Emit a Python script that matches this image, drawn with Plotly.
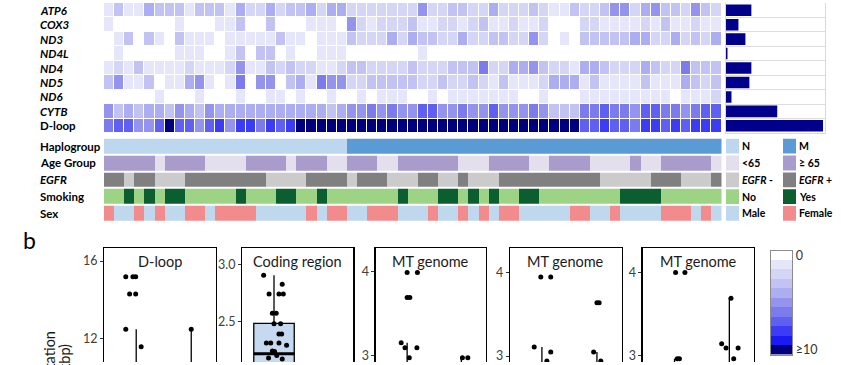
import plotly.graph_objects as go

W, H = 841, 365


def fx(v):
    return v / W


def fy(v):
    return 1 - v / H


# ---------------- data: heatmap (mutation counts per sample, 0..10 = ">=10") ----
genes = ["ATP6", "COX3", "ND3", "ND4L", "ND4", "ND5", "ND6", "CYTB", "D-loop"]
gene_labels = ["<b><i>ATP6</i></b>", "<b><i>COX3</i></b>", "<b><i>ND3</i></b>", "<b><i>ND4L</i></b>",
               "<b><i>ND4</i></b>", "<b><i>ND5</i></b>", "<b><i>ND6</i></b>", "<b><i>CYTB</i></b>",
               "<b>D-loop</b>"]

ATP6 = [1, 3, 1, 1, 4, 3, 3, 3, 1, 3, 3, 3, 1, 4, 2, 2, 4, 2, 3, 3, 4,
        2, 4, 4, 2, 2, 2, 2, 2, 2, 2, 5, 2, 2, 3, 3, 2, 2, 4, 2, 2,
        2, 3, 2, 1, 1, 3, 2, 2, 3, 5, 5, 2, 4, 5, 3, 3, 2, 5, 3, 2]
COX3 = [1, 0, 0, 0, 0, 0, 0, 1, 0, 0, 0, 1, 1, 3, 0, 0, 3, 0, 0, 0, 1,
        1, 1, 0, 5, 2, 1, 2, 2, 2, 3, 1, 1, 2, 2, 1, 2, 3, 1, 1, 2,
        1, 1, 2, 0, 0, 0, 2, 2, 1, 1, 1, 1, 2, 1, 3, 1, 1, 2, 1, 1]
ND3 = [0, 1, 3, 0, 3, 1, 0, 3, 1, 1, 1, 0, 1, 1, 1, 1, 1, 3, 1, 1, 0,
       1, 1, 1, 3, 2, 2, 2, 4, 2, 4, 3, 3, 2, 2, 4, 2, 2, 3, 3, 2,
       2, 5, 2, 0, 1, 0, 3, 3, 3, 3, 3, 4, 4, 2, 2, 4, 2, 3, 2, 4]
ND4L = [0, 1, 0, 0, 0, 0, 0, 1, 1, 1, 0, 0, 1, 3, 0, 3, 3, 0, 1, 0, 0,
        1, 1, 1, 0, 0, 0, 0, 0, 0, 0, 1, 0, 0, 0, 0, 0, 0, 0, 0, 0,
        0, 0, 0, 0, 0, 0, 0, 0, 0, 0, 0, 0, 0, 0, 0, 0, 0, 0, 0, 0]
ND4 = [1, 2, 1, 3, 1, 1, 1, 1, 2, 1, 1, 1, 2, 5, 1, 1, 3, 2, 3, 2, 2,
       1, 1, 2, 3, 3, 2, 2, 2, 2, 3, 2, 2, 2, 3, 3, 3, 6, 2, 2, 4,
       4, 5, 3, 2, 2, 1, 4, 4, 3, 2, 2, 2, 4, 3, 2, 2, 6, 3, 3, 3]
ND5 = [3, 5, 1, 1, 3, 0, 1, 1, 4, 5, 1, 0, 1, 6, 0, 5, 5, 0, 3, 4, 1,
       6, 5, 5, 2, 2, 3, 3, 3, 3, 3, 2, 2, 3, 2, 2, 3, 2, 1, 3, 1,
       1, 1, 2, 4, 4, 4, 1, 3, 1, 1, 1, 1, 3, 1, 1, 1, 4, 3, 2, 3]
ND6 = [0, 0, 0, 0, 0, 1, 0, 0, 0, 1, 0, 0, 0, 1, 0, 0, 1, 1, 0, 1, 0,
       0, 1, 0, 0, 1, 0, 1, 1, 1, 0, 0, 1, 0, 1, 1, 1, 1, 1, 1, 1,
       0, 0, 1, 0, 0, 0, 1, 1, 1, 1, 1, 1, 1, 1, 1, 0, 1, 1, 1, 2]
CYTB = [5, 3, 4, 3, 4, 4, 3, 5, 4, 3, 5, 4, 4, 4, 4, 4, 4, 4, 4, 4, 4,
        4, 3, 4, 5, 5, 6, 5, 6, 5, 5, 7, 7, 5, 5, 6, 5, 5, 7, 5, 5,
        5, 6, 5, 3, 3, 3, 6, 6, 7, 6, 6, 5, 7, 7, 6, 6, 5, 6, 7, 7]
DLOOP = [6, 7, 7, 5, 5, 7, 10, 7, 7, 5, 7, 8, 5, 8, 8, 6, 8, 7, 8, 10, 10,
         10, 10, 10, 10, 10, 10, 10, 10, 10, 10, 10, 10, 10, 10, 10, 10, 10, 10, 10, 10,
         10, 10, 10, 10, 10, 10, 7, 7, 8, 7, 7, 6, 8, 8, 7, 8, 7, 8, 8, 8]

# proportion of samples mutated (right bar panel, %)
gene_freq = [26, 13, 20, 2, 26, 24, 6, 52, 98]

# ---------------- data: clinical annotation tracks (0 / 1 per sample) ----
track_names = ["<b>Haplogroup</b>", "<b>Age Group</b>", "<b><i>EGFR</i></b>", "<b>Smoking</b>", "<b>Sex</b>"]
HAPLO = "000000000000000000000000 1111111111111111111111111111111111111".replace(" ", "")
AGE = "11111 0 1111 0000 1111 0 111 00 111 00 111111 000 1111 00 1111 0000 1 00 11111 0".replace(" ", "")
EGFR = "11 0 11 000 11111111 0000 1111 0 111 000 11 00 1 000 1111111111 00000 111 000 1".replace(" ", "")
SMOKE = "00 1 0 1 0 11 00000 1 000 11 00 1 0000000 1 000 11 0 1 0 1 00 11 00000000 1111 000000".replace(" ", "")
SEX = "1 00 1 0 1 00 11 0 1111 00000 1 0 11 00 111 000 1 00 1 0 1 0 11 00000 11 00 1 0000 111 0 1 0".replace(" ", "")
legend_left = ["<b>N</b>", "<b>&lt;65</b>", "<b><i>EGFR</i> -</b>", "<b>No</b>", "<b>Male</b>"]
legend_right = ["<b>M</b>", "<b>≥ 65</b>", "<b><i>EGFR</i> +</b>", "<b>Yes</b>", "<b>Female</b>"]
track_colors = [("#bdd7ee", "#5b9bd5"), ("#e4dfec", "#a99bcb"), ("#cbcbcb", "#808080"),
                ("#9dd384", "#0b5e2f"), ("#c0d8ee", "#f28c8c")]

for s in (HAPLO, AGE, EGFR, SMOKE, SEX):
    assert len(s) == 61, len(s)

# ---------------- data: lower panels (points + box statistics) ----------
panel_titles = ["D-loop", "Coding region", "MT genome", "MT genome", "MT genome"]
y_title_lines = ["Mutation", "(per kbp)"]
# per panel, per group: point values and their horizontal jitter offsets
pts_val = [
    [[15.19, 15.19, 15.19, 14.3, 14.3, 12.48, 11.58], [12.48]],
    [[2.905, 2.825, 2.74, 2.74, 2.74, 2.57, 2.57, 2.48, 2.48, 2.39, 2.39, 2.31, 2.31, 2.31,
      2.29, 2.24, 2.235, 2.20, 2.18, 2.17], [2.0]],
    [[3.99, 3.99, 3.69, 3.69, 3.15, 3.09, 3.09, 2.97], [2.97, 2.97]],
    [[3.95, 3.95, 3.11, 3.05, 2.94], [3.64, 3.64, 3.05, 2.94]],
    [[4.0, 4.0, 2.96, 2.96], [3.69, 3.14, 3.09, 3.09, 2.96]],
]
pts_jit = [
    [[-0.19, -0.06, -0.01, -0.12, -0.01, -0.19, 0.09], [0.0]],
    [[-0.19, 0.15, -0.09, 0.09, 0.17, -0.03, 0.04, 0.0, 0.12, 0.09, 0.14, -0.14, -0.06, 0.09,
      0.23, -0.03, 0.01, 0.05, -0.10, 0.15], [0.0]],
    [[0.0, 0.19, 0.0, 0.05, -0.11, -0.04, 0.18, 0.04], [0.02, 0.12]],
    [[-0.02, 0.16, -0.14, 0.16, 0.09], [0.0, 0.04, -0.06, 0.07]],
    [[0.02, 0.19, 0.05, 0.09], [0.03, -0.14, -0.06, 0.16, 0.08]],
]
# box stats per panel, per group: (lowerfence, q1, median, q3, upperfence)
box_stats = [
    [(4.0, 7.0, 8.5, 10.0, 12.48), (5.0, 7.5, 9.0, 10.3, 12.48)],
    [(1.6, 1.95, 2.216, 2.483, 2.905), (1.2, 1.5, 1.7, 1.85, 2.05)],
    [(2.0, 2.4, 2.6, 2.8, 3.15), (2.0, 2.3, 2.5, 2.7, 2.97)],
    [(2.0, 2.4, 2.6, 2.8, 3.11), (2.0, 2.4, 2.6, 2.8, 3.05)],
    [(2.0, 2.4, 2.6, 2.8, 2.96), (2.0, 2.4, 2.6, 2.8, 3.69)],
]
y_ranges = [(10.79, 16.66), (2.144, 3.141), (2.918, 4.282), (2.929, 4.295), (2.92, 4.293)]
y_dticks = [4, 0.5, 1, 1, 1]
panel_px = [(104.3, 216), (242.3, 353.3), (375.7, 485.7), (510, 621.7), (642.7, 754)]

levels = list(range(11))
level_colors = ["#ffffff", "#e6e6fa", "#d5d5f6", "#c3c3f3", "#adadf1", "#9494ee",
                "#7b7bee", "#5f5ff1", "#3c3cf4", "#1a1af5", "#00007f"]
CS = [[i / 10, c] for i, c in enumerate(level_colors)]

FONT = "Lato"

fig = go.Figure()

# ---- main heatmap ----
heat = [ATP6, COX3, ND3, ND4L, ND4, ND5, ND6, CYTB, DLOOP]
ncol = len(ATP6)
fig.add_trace(go.Heatmap(z=heat, x=list(range(ncol)), y=list(range(len(genes))),
                         colorscale=CS, zmin=0, zmax=10, xgap=1, ygap=1, showscale=False,
                         xaxis="x", yaxis="y", hoverinfo="skip"))

# ---- annotation tracks ----
tracks = [HAPLO, AGE, EGFR, SMOKE, SEX]
ann_z = [[2 * t + int(ch) for ch in s] for t, s in enumerate(tracks)]
cs2 = []
flat_colors = [c for pair in track_colors for c in pair]
for k, c in enumerate(flat_colors):
    cs2 += [[k / 10, c], [(k + 1) / 10, c]]
fig.add_trace(go.Heatmap(z=ann_z, x=list(range(ncol)), y=list(range(5)), colorscale=cs2,
                         zmin=-0.5, zmax=9.5, ygap=2, showscale=False,
                         xaxis="x2", yaxis="y2", hoverinfo="skip"))

# ---- right bars ----
fig.add_trace(go.Bar(x=gene_freq, y=list(range(len(genes))), orientation="h",
                     marker=dict(color="#00008b", line=dict(width=0)), width=0.8,
                     xaxis="x3", yaxis="y3", hoverinfo="skip"))

# ---- lower panels ----
for i in range(5):
    xa, ya = f"x{4 + i}", f"y{4 + i}"
    for g in range(2):
        lo, q1, med, q3, up = box_stats[i][g]
        fig.add_trace(go.Box(x=[g], lowerfence=[lo], q1=[q1], median=[med], q3=[q3], upperfence=[up],
                             width=0.74, whiskerwidth=0, boxpoints=False,
                             fillcolor="#c5d9f1" if g == 0 else "#9dc3e6",
                             line=dict(color="black", width=1.3),
                             xaxis=xa, yaxis=ya, hoverinfo="skip"))
        fig.add_trace(go.Scatter(x=[g - 0.37, g + 0.37], y=[med, med], mode="lines",
                                 line=dict(color="black", width=3),
                                 xaxis=xa, yaxis=ya, hoverinfo="skip"))
        fig.add_trace(go.Scatter(x=[g + o for o in pts_jit[i][g]], y=pts_val[i][g], mode="markers",
                                 marker=dict(size=5, color="black"),
                                 xaxis=xa, yaxis=ya, hoverinfo="skip"))

# ---- colour key ----
fig.add_trace(go.Heatmap(z=[[v] for v in levels], x=[0], y=levels, colorscale=CS, zmin=0, zmax=10,
                         showscale=False, xaxis="x9", yaxis="y9", hoverinfo="skip"))

layout = dict(width=W, height=H, autosize=False, margin=dict(l=0, r=0, t=0, b=0),
              paper_bgcolor="white", plot_bgcolor="white", showlegend=False,
              font=dict(family=FONT, color="black"))

hidden = dict(visible=False, showgrid=False, zeroline=False)
layout["xaxis"] = dict(hidden, domain=[fx(104), fx(721.5)], range=[-0.5, ncol - 0.5], anchor="y")
layout["yaxis"] = dict(hidden, domain=[fy(132.2), 1], range=[len(genes) - 0.5, -0.5], anchor="x")
layout["xaxis2"] = dict(hidden, domain=[fx(104), fx(721.5)], range=[-0.5, ncol - 0.5], anchor="y2")
layout["yaxis2"] = dict(hidden, domain=[fy(222.5), fy(137)], range=[4.5, -0.5], anchor="x2")
layout["xaxis3"] = dict(domain=[fx(725.5), fx(825)], range=[0, 100], showline=True, linecolor="#d9d9d9",
                        linewidth=1, showticklabels=False, ticks="", showgrid=False, zeroline=False,
                        anchor="y3")
layout["yaxis3"] = dict(domain=[fy(132.2), 1], range=[len(genes) - 0.5, -0.5], anchor="x3",
                        tickvals=[k + 0.5 for k in range(len(genes) - 1)], showgrid=True,
                        gridcolor="#dedede", gridwidth=1, showticklabels=False, ticks="",
                        showline=True, mirror=True, linecolor="#d9d9d9", zeroline=False)

for i in range(5):
    L, R = panel_px[i]
    layout[f"xaxis{4 + i}"] = dict(domain=[fx(L), fx(R)], range=[-0.58, 1.45], side="top",
                                   showline=True, linecolor="black", linewidth=1.3,
                                   showticklabels=False, ticks="", showgrid=False, zeroline=False,
                                   anchor=f"y{4 + i}")
    layout[f"yaxis{4 + i}"] = dict(domain=[0, fy(249.3)], range=list(y_ranges[i]), dtick=y_dticks[i],
                                   tickformat=".1f" if i == 1 else "", showline=True, mirror=True,
                                   linecolor="black", linewidth=1.3, ticks="outside", ticklen=3,
                                   tickcolor="#333333", tickfont=dict(size=12.5, color="#404040"),
                                   showgrid=False, zeroline=False, anchor=f"x{4 + i}")

layout["xaxis9"] = dict(domain=[fx(771), fx(792.3)], range=[-0.5, 0.5], showline=True, mirror=True,
                        linecolor="#8c8c8c", showticklabels=False, ticks="", showgrid=False,
                        zeroline=False, anchor="y9")
layout["yaxis9"] = dict(domain=[fy(357.7), fy(251.7)], range=[10.5, -0.5], side="right",
                        showline=True, mirror=True, linecolor="#8c8c8c", tickvals=[0, 10],
                        ticktext=["0", "≥10"], ticks="", showgrid=False, zeroline=False,
                        tickfont=dict(size=12.5, color="#333333"), anchor="x9")

annotations = []
for k, lab in enumerate(gene_labels):
    annotations.append(dict(text=lab, x=fx(38), xref="paper", xanchor="left", y=k, yref="y",
                            yanchor="middle", showarrow=False, font=dict(size=11.5)))
for k, lab in enumerate(track_names):
    annotations.append(dict(text=lab, x=fx(38), xref="paper", xanchor="left", y=k, yref="y2",
                            yanchor="middle", showarrow=False, font=dict(size=11.5)))
    annotations.append(dict(text=legend_left[k], x=fx(740), xref="paper", xanchor="left", y=k,
                            yref="y2", yanchor="middle", showarrow=False, font=dict(size=10.5)))
    annotations.append(dict(text=legend_right[k], x=fx(797), xref="paper", xanchor="left", y=k,
                            yref="y2", yanchor="middle", showarrow=False, font=dict(size=10.5)))
for i in range(5):
    L, R = panel_px[i]
    annotations.append(dict(text=panel_titles[i], x=fx((L + R) / 2), xref="paper", xanchor="center",
                            y=fy(263), yref="paper", yanchor="middle", showarrow=False,
                            font=dict(size=14.5, color="#1a1a1a")))
annotations.append(dict(text="b", x=fx(21), xref="paper", xanchor="left", y=fy(241), yref="paper",
                        yanchor="middle", showarrow=False, font=dict(size=23)))
# rotated two-line axis title (each line placed by its centre)
for line, (cx, cy) in zip(y_title_lines, [(49, 364), (64.5, 375)]):
    annotations.append(dict(text=line, textangle=-90, x=fx(cx), xref="paper", xanchor="center",
                            y=fy(cy), yref="paper", yanchor="middle", showarrow=False,
                            font=dict(size=14.5, color="#1a1a1a")))
layout["annotations"] = annotations

shapes = []
for k in range(5):
    for j, (x0, x1) in enumerate([(726, 739), (783, 796)]):
        shapes.append(dict(type="rect", xref="paper", yref="y2", x0=fx(x0), x1=fx(x1),
                           y0=k - 0.44, y1=k + 0.44, fillcolor=track_colors[k][j], line=dict(width=0)))
layout["shapes"] = shapes

fig.update_layout(layout)
fig.write_html("out.html", config={"displayModeBar": False, "staticPlot": True},
               post_script="document.body.style.margin='0';document.body.style.overflow='hidden';")
